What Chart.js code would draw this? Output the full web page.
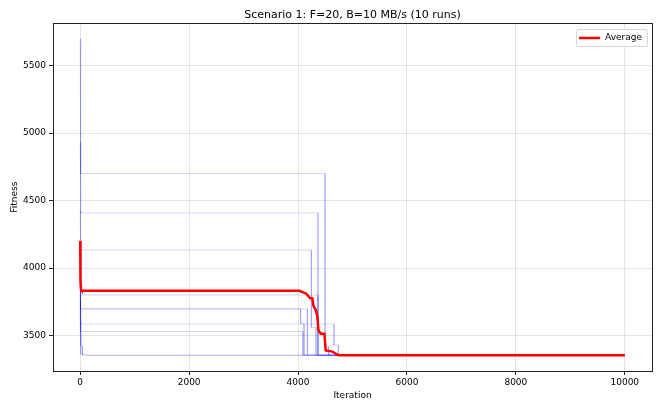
<!DOCTYPE html>
<html>
<head>
<meta charset="utf-8">
<script src="https://cdn.jsdelivr.net/npm/chart.js@4.4.0/dist/chart.umd.min.js"></script>
<style>
html, body { margin: 0; padding: 0; background: #fff; }
#wrap { width: 662px; height: 411px; }
</style>
</head>
<body>
<div id="wrap"><canvas id="chart"></canvas></div>
<script>
// Ticks and labels
const chartTitle = 'Scenario 1: F=20, B=10 MB/s (10 runs)';
const xTicks = [0, 2000, 4000, 6000, 8000, 10000];
const yTicks = [3500, 4000, 4500, 5000, 5500];

// Best fitness per run: [iteration, fitness] corner points
const run1 = [[0, 5700], [8, 4409], [4366, 4409], [4366, 3354], [10000, 3354]];
const run2 = [[0, 4930], [6, 4701], [4495, 4701], [4495, 3420], [4560, 3420], [4560, 3354], [10000, 3354]];
const run3 = [[0, 4420], [5, 4134], [4244, 4134], [4244, 3560], [4330, 3560], [4330, 3354], [10000, 3354]];
const run4 = [[0, 4100], [5, 3800], [4366, 3800], [4366, 3354], [10000, 3354]];
const run5 = [[0, 3950], [5, 3697], [4048, 3697], [4048, 3587], [4110, 3587], [4110, 3354], [10000, 3354]];
const run6 = [[0, 3900], [5, 3697], [4170, 3697], [4170, 3354], [10000, 3354]];
const run7 = [[0, 3800], [5, 3585], [4660, 3585], [4660, 3430], [4740, 3430], [4740, 3354], [10000, 3354]];
const run8 = [[0, 3750], [5, 3530], [4090, 3530], [4090, 3354], [10000, 3354]];
const run9 = [[0, 3700], [10, 3423], [40, 3423], [40, 3354], [10000, 3354]];
const run10 = [[0, 3600], [10, 3360], [120, 3354], [10000, 3354]];
const runs = [run1, run2, run3, run4, run5, run6, run7, run8, run9, run10];

// Average curve
const avgLabel = 'Average';
const avgIter = [0, 5, 15, 30, 4030, 4060, 4152, 4220, 4263, 4281, 4324, 4355, 4373, 4416, 4484, 4508, 4631, 4673, 4741, 10000];
const avgFit  = [4200, 3900, 3840, 3832, 3832, 3825, 3810, 3778, 3775, 3721, 3691, 3641, 3542, 3513, 3513, 3389, 3381, 3369, 3354, 3354];

const FONT = 'DejaVu Sans';

// axes frame on all four sides + matplotlib-like legend in the upper right
const frame = {
    id: 'frame',
    afterDraw(chart) {
        const { ctx, chartArea: a } = chart;
        ctx.save();
        ctx.strokeStyle = '#222';
        ctx.lineWidth = 1;
        ctx.strokeRect(Math.round(a.left) + 0.5, Math.round(a.top) + 0.5,
            Math.round(a.right - a.left), Math.round(a.bottom - a.top));

        const w = 71, h = 17;
        const x0 = Math.round(a.right) - 5 - w, y0 = Math.round(a.top) + 6;
        ctx.fillStyle = 'rgba(255,255,255,0.8)';
        ctx.strokeStyle = '#d6d6d6';
        ctx.beginPath();
        ctx.roundRect(x0 + 0.5, y0 + 0.5, w, h, 2);
        ctx.fill();
        ctx.stroke();

        const ds = chart.data.datasets[0];
        ctx.strokeStyle = ds.borderColor;
        ctx.lineWidth = ds.borderWidth;
        ctx.beginPath();
        ctx.moveTo(x0 + 3, y0 + h / 2 + 0.5);
        ctx.lineTo(x0 + 24, y0 + h / 2 + 0.5);
        ctx.stroke();

        ctx.fillStyle = '#000';
        ctx.font = '9px "' + FONT + '"';
        ctx.textBaseline = 'middle';
        ctx.textAlign = 'left';
        ctx.fillText(ds.label, x0 + 29, y0 + h / 2 + 0.5);
        ctx.restore();
    }
};

const datasets = [{
    label: avgLabel,
    data: avgIter.map((x, i) => ({ x: x, y: avgFit[i] })),
    borderColor: '#ff0000',
    backgroundColor: '#ff0000',
    borderWidth: 2.5,
    pointRadius: 0,
    showLine: true,
    order: 0
}];
runs.forEach(r => {
    datasets.push({
        label: '',
        data: r.map(p => ({ x: p[0], y: p[1] })),
        borderColor: 'rgba(0, 0, 255, 0.17)',
        borderWidth: 1,
        pointRadius: 0,
        showLine: true,
        order: 1
    });
});

new Chart(document.getElementById('chart'), {
    type: 'scatter',
    data: { datasets: datasets },
    plugins: [frame],
    options: {
        responsive: true,
        maintainAspectRatio: false,
        animation: false,
        layout: { padding: { left: 0, right: 10, top: 0, bottom: 6 } },
        plugins: {
            title: {
                display: true,
                fullSize: false,
                text: chartTitle,
                color: '#000',
                font: { family: FONT, size: 11, weight: 'normal' },
                padding: { top: 9, bottom: 1 }
            },
            legend: { display: false },
            tooltip: { enabled: false }
        },
        scales: {
            x: {
                type: 'linear',
                min: -500,
                max: 10500,
                afterBuildTicks: s => { s.ticks = xTicks.map(v => ({ value: v })); },
                afterFit: s => { s.height = 34; },
                ticks: {
                    color: '#000',
                    font: { family: FONT, size: 9 },
                    padding: 2,
                    maxRotation: 0,
                    callback: v => String(v)
                },
                grid: { color: 'rgba(0,0,0,0.1)', tickColor: '#222', tickLength: 4 },
                border: { color: '#222' },
                title: {
                    display: true,
                    text: 'Iteration',
                    color: '#000',
                    font: { family: FONT, size: 9 },
                    padding: { top: 2, bottom: 4 }
                }
            },
            y: {
                type: 'linear',
                min: 3237,
                max: 5815,
                afterBuildTicks: s => { s.ticks = yTicks.map(v => ({ value: v })); },
                afterFit: s => { s.width = 53; },
                ticks: {
                    color: '#000',
                    font: { family: FONT, size: 9 },
                    padding: 3,
                    callback: v => String(v)
                },
                grid: { color: 'rgba(0,0,0,0.1)', tickColor: '#222', tickLength: 4 },
                border: { color: '#222' },
                title: {
                    display: true,
                    text: 'Fitness',
                    color: '#000',
                    font: { family: FONT, size: 9 },
                    padding: { top: 9, bottom: 4 }
                }
            }
        }
    }
});
</script>
</body>
</html>
